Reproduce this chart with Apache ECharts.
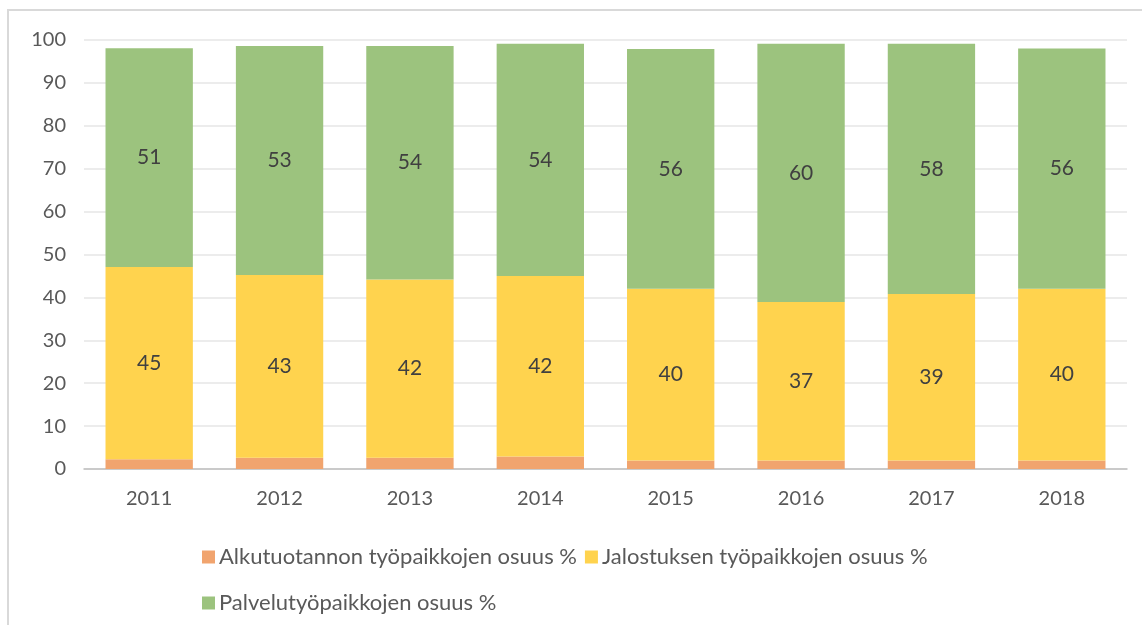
<!DOCTYPE html>
<html><head><meta charset="utf-8">
<script src="https://cdn.jsdelivr.net/npm/echarts@6/dist/echarts.min.js"></script>
<style>html,body{margin:0;padding:0;background:#fff}#c{width:1142px;height:625px}</style>
</head><body><div id="c"></div>
<script>
const years = ['2011','2012','2013','2014','2015','2016','2017','2018'];
const alkutuotanto = [2.3, 2.6, 2.6, 2.9, 2.0, 2.0, 2.0, 2.0];
const jalostus = [44.8, 42.6, 41.6, 42.1, 40.0, 36.9, 38.8, 40.0];
const palvelu = [51.0, 53.4, 54.4, 54.1, 55.9, 60.2, 58.3, 56.0];
const seriesNames = ['Alkutuotannon työpaikkojen osuus %', 'Jalostuksen työpaikkojen osuus %', 'Palvelutyöpaikkojen osuus %'];
const colors = ['#F1A46E', '#FFD34E', '#9CC37E'];
const FONT = 'Lato';

const chart = echarts.init(document.getElementById('c'), null, {renderer: 'canvas'});
const lbl = {show: true, position: 'inside', color: '#404040', fontFamily: FONT, fontSize: 21,
  formatter: p => Math.round(p.value)};
const legText = {fontFamily: FONT, fontSize: 22, color: '#595959', padding: [0, 0, 0, -1]};
chart.setOption({
  animation: false,
  color: colors,
  graphic: [{type: 'rect', shape: {x: 8, y: 10, width: 1200, height: 700},
    style: {fill: 'none', stroke: '#d9d9d9', lineWidth: 2}, silent: true}],
  grid: {left: 84, right: 15, top: 40, bottom: 156},
  legend: [
    {data: seriesNames.slice(0, 2), left: 197, top: 541, itemWidth: 13, itemHeight: 13, itemGap: 8,
     icon: 'rect', textStyle: legText},
    {data: seriesNames.slice(2), left: 197, top: 587, itemWidth: 13, itemHeight: 13,
     icon: 'rect', textStyle: legText}
  ],
  xAxis: {type: 'category', data: years,
    axisLine: {lineStyle: {color: '#bfbfbf', width: 1.5}}, axisTick: {show: false},
    axisLabel: {color: '#595959', fontFamily: FONT, fontSize: 20, margin: 20}},
  yAxis: {type: 'value', min: 0, max: 100, interval: 10,
    axisLine: {show: false}, axisTick: {show: false},
    splitLine: {lineStyle: {color: '#e6e6e6', width: 1.5}},
    axisLabel: {color: '#595959', fontFamily: FONT, fontSize: 20, margin: 18}},
  series: [
    {name: seriesNames[0], type: 'bar', stack: 's', data: alkutuotanto, barCategoryGap: '33%'},
    {name: seriesNames[1], type: 'bar', stack: 's', data: jalostus, label: lbl},
    {name: seriesNames[2], type: 'bar', stack: 's', data: palvelu, label: lbl}
  ]
});
</script></body></html>
